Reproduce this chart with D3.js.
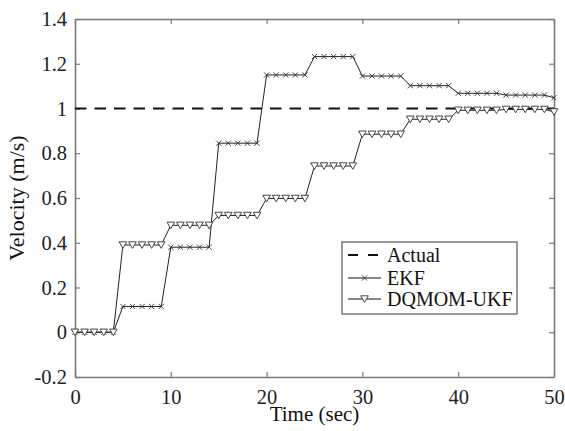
<!DOCTYPE html>
<html>
<head>
<meta charset="utf-8">
<script src="https://cdn.jsdelivr.net/npm/d3@7"></script>
<style>
  body { margin: 0; background: #fff; }
</style>
</head>
<body>
<div id="chart"></div>
<script>
// time samples (sec)
var time = [0, 1, 2, 3, 4, 5, 6, 7, 8, 9, 10, 11, 12, 13, 14, 15, 16, 17, 18, 19, 20,
    21, 22, 23, 24, 25, 26, 27, 28, 29, 30, 31, 32, 33, 34, 35, 36, 37, 38, 39, 40,
    41, 42, 43, 44, 45, 46, 47, 48, 49, 50];

var ekf = [0, 0, 0, 0, 0,
    0.115, 0.115, 0.115, 0.115, 0.115,
    0.38, 0.38, 0.38, 0.38, 0.38,
    0.845, 0.845, 0.845, 0.845, 0.845,
    1.15, 1.15, 1.15, 1.15, 1.15,
    1.232, 1.232, 1.232, 1.232, 1.232,
    1.145, 1.145, 1.145, 1.145, 1.145,
    1.102, 1.102, 1.102, 1.102, 1.102,
    1.068, 1.068, 1.068, 1.068, 1.068,
    1.06, 1.06, 1.06, 1.06, 1.06,
    1.048];

var ukf = [0, 0, 0, 0, 0,
    0.39, 0.39, 0.39, 0.39, 0.39,
    0.478, 0.478, 0.478, 0.478, 0.478,
    0.522, 0.522, 0.522, 0.522, 0.522,
    0.598, 0.598, 0.598, 0.598, 0.598,
    0.743, 0.743, 0.743, 0.743, 0.743,
    0.885, 0.885, 0.885, 0.885, 0.885,
    0.952, 0.952, 0.952, 0.952, 0.952,
    0.992, 0.992, 0.992, 0.992, 0.992,
    0.996, 0.996, 0.996, 0.996, 0.996,
    0.985];

var actualTime = [0, 50];
var actual = [1, 1];

var xTicks = [0, 10, 20, 30, 40, 50];
var yTicks = [-0.2, 0, 0.2, 0.4, 0.6, 0.8, 1, 1.2, 1.4];
var yTickLabels = ["-0.2", "0", "0.2", "0.4", "0.6", "0.8", "1", "1.2", "1.4"];

var legendNames = ["Actual", "EKF", "DQMOM-UKF"];

var serif = 'Liberation Serif';

var width = 565, height = 431;
var margins = { top: 19, right: 11, bottom: 54, left: 75 };
var plotW = width - margins.left - margins.right;
var plotH = height - margins.top - margins.bottom;

var svg = d3.select('#chart').append('svg')
    .attr('width', width)
    .attr('height', height);

var xScale = d3.scaleLinear().domain([0, 50]).range([0, plotW]);
var yScale = d3.scaleLinear().domain([-0.2, 1.4]).range([plotH, 0]);

var g = svg.append('g')
    .attr('transform', 'translate(' + margins.left + ',' + margins.top + ')');

var axisColor = '#7a7a7a';
var tickLen = 5;

// axes: bottom/left with labels, top/right with ticks only (all ticks inward)
var xAxisB = d3.axisBottom(xScale).tickValues(xTicks).tickSizeInner(-tickLen).tickSizeOuter(0).tickPadding(12);
var xAxisT = d3.axisTop(xScale).tickValues(xTicks).tickSizeInner(-tickLen).tickSizeOuter(0).tickFormat('');
var yAxisL = d3.axisLeft(yScale).tickValues(yTicks).tickSizeInner(-tickLen).tickSizeOuter(0).tickPadding(8)
    .tickFormat(function (d, i) { return yTickLabels[i]; });
var yAxisR = d3.axisRight(yScale).tickValues(yTicks).tickSizeInner(-tickLen).tickSizeOuter(0).tickFormat('');

function styleAxis(sel) {
    sel.select('.domain').attr('stroke', axisColor).attr('stroke-width', 1.6);
    sel.selectAll('.tick line').attr('stroke', axisColor).attr('stroke-width', 1.2);
    sel.selectAll('.tick text')
        .style('font-family', serif)
        .style('font-size', '20.5px')
        .style('fill', '#222');
}

g.append('g').attr('transform', 'translate(0,' + plotH + ')').call(xAxisB).call(styleAxis);
g.append('g').call(xAxisT).call(styleAxis);
g.append('g').call(yAxisL).call(styleAxis);
g.append('g').attr('transform', 'translate(' + plotW + ',0)').call(yAxisR).call(styleAxis);

// axis titles
svg.append('text')
    .attr('x', margins.left + plotW / 2)
    .attr('y', 421)
    .attr('text-anchor', 'middle')
    .style('font-family', serif)
    .style('font-size', '21px')
    .style('fill', '#111')
    .text('Time (sec)');

svg.append('text')
    .attr('transform', 'translate(24,' + (margins.top + plotH / 2) + ') rotate(-90)')
    .attr('text-anchor', 'middle')
    .style('font-family', serif)
    .style('font-size', '22px')
    .style('fill', '#111')
    .text('Velocity (m/s)');

var items = g.append('g').attr('class', 'items');

var line = d3.line()
    .x(function (d) { return xScale(d[0]); })
    .y(function (d) { return yScale(d[1]); });

// actual (dashed)
items.append('path')
    .datum(actualTime.map(function (t, i) { return [t, actual[i]]; }))
    .attr('d', line)
    .attr('fill', 'none')
    .attr('stroke', '#111')
    .attr('stroke-width', 2.2)
    .attr('stroke-dasharray', '11.5,8');

var ekfData = time.map(function (t, i) { return [t, ekf[i]]; });
var ukfData = time.map(function (t, i) { return [t, ukf[i]]; });

var xMark = 'M-2.6,-2.6L2.6,2.6M-2.6,2.6L2.6,-2.6';
var triMark = 'M-3.8,-3.2L3.8,-3.2L0,3.4Z';

function drawSeries(data, mark, cls) {
    items.append('path')
        .datum(data)
        .attr('class', cls)
        .attr('d', line)
        .attr('fill', 'none')
        .attr('stroke', '#222')
        .attr('stroke-width', 1);

    items.selectAll('.m-' + cls)
        .data(data)
        .enter().append('path')
        .attr('class', 'm-' + cls)
        .attr('d', mark)
        .attr('transform', function (d) { return 'translate(' + xScale(d[0]) + ',' + yScale(d[1]) + ')'; })
        .attr('fill', '#fff')
        .attr('stroke', '#333')
        .attr('stroke-width', 0.9);
}

drawSeries(ekfData, xMark, 'ekf');
drawSeries(ukfData, triMark, 'ukf');

// legend
var legend = svg.append('g').attr('class', 'chart-legend');
legend.append('rect')
    .attr('x', 342).attr('y', 242)
    .attr('width', 175).attr('height', 72)
    .attr('fill', '#fff')
    .attr('stroke', axisColor)
    .attr('stroke-width', 1.5);

var rowY = [255, 278, 299];
legendNames.forEach(function (name, i) {
    var row = legend.append('g').attr('transform', 'translate(0,' + rowY[i] + ')');
    var l = row.append('line')
        .attr('x1', 348).attr('x2', 381)
        .attr('y1', 0).attr('y2', 0)
        .attr('stroke', '#111');
    if (i === 0) {
        l.attr('stroke-width', 2.2).attr('stroke-dasharray', '10,10');
    } else {
        l.attr('stroke-width', 1);
        row.append('path')
            .attr('d', i === 1 ? xMark : triMark)
            .attr('transform', 'translate(364.5,0)')
            .attr('fill', '#fff')
            .attr('stroke', '#333')
            .attr('stroke-width', 0.9);
    }
    row.append('text')
        .attr('x', 387)
        .attr('y', 7)
        .style('font-family', serif)
        .style('font-size', '20px')
        .style('fill', '#111')
        .text(name);
});
</script>
</body>
</html>
